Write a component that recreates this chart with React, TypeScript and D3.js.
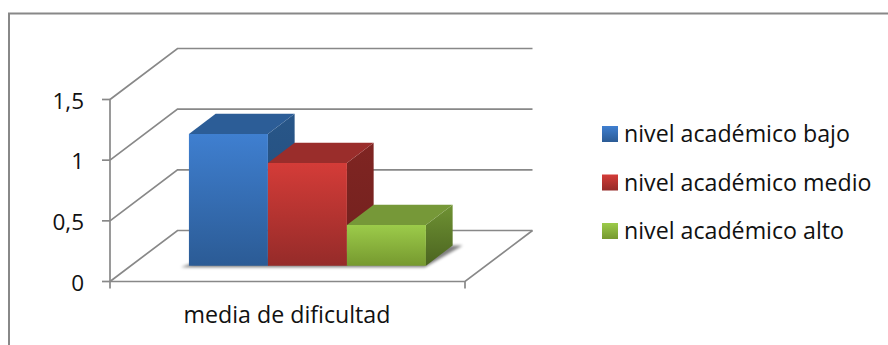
import React from "react";
import * as d3 from "d3";

const categories = ["media de dificultad"];
const seriesNames = ["nivel académico bajo", "nivel académico medio", "nivel académico alto"];
const seriesValues = [1.085, 0.846, 0.335];
const yTicks = [0, 0.5, 1, 1.5];
const frontColors = [["#3f7fd0", "#2b5b95"], ["#d43c38", "#952b29"], ["#9ccb4a", "#76992f"]];
const topColors = ["#2c5d97", "#9a2d2b", "#769838"];
const sideColors = [["#285688", "#234c7c"], ["#7f2522", "#72201e"], ["#6f9233", "#4b6420"]];

const FONT = "'Open Sans', sans-serif";
const LABEL_SIZE = 23.2;
const TICK_SIZE = 22.5;
const INK = "#111111";
const RULE = "#888888";

// Oblique projection: depth 0 is the front edge of the floor, depth 1 the back wall.
const DX = 67.5;
const DY = -51;
const y = d3.scaleLinear().domain([0, 1.5]).range([281.5, 99.5]);
const xOuter = d3.scaleBand().domain(categories).range([110, 465]).paddingInner(0).paddingOuter(0);
const seriesBand = d3.scaleBand().domain(seriesNames).range([168, 405]);
const project = (px: number, value: number, depth: number): [number, number] => [
  px + DX * depth,
  y(value) + DY * depth,
];
const poly = (pts: [number, number][]) => d3.line()(pts) + "Z";

const BAR_FRONT = 0.31;
const BAR_BACK = 0.706;

export default function App() {
  const bw = seriesBand.bandwidth();
  const firstX = seriesBand(seriesNames[0])!;
  const lastX = seriesBand(seriesNames[2])! + bw;
  const shadow = poly([
    project(firstX - 6, 0, BAR_FRONT - 0.03),
    project(lastX + 1, 0, BAR_FRONT - 0.03),
    project(lastX + 10, 0, BAR_BACK),
    project(lastX - 10, 0, BAR_BACK),
    project(firstX, 0, BAR_FRONT + 0.05),
  ]);
  return (
    <svg
      width={888}
      height={345}
      style={{ position: "absolute", left: 0, top: 0, background: "#fff" }}
      fontFamily={FONT}
    >
      <defs>
        {frontColors.map((c, i) => (
          <linearGradient key={i} id={`front${i}`} x1="0" y1="0" x2="0" y2="1">
            <stop offset="0" stopColor={c[0]} />
            <stop offset="1" stopColor={c[1]} />
          </linearGradient>
        ))}
        {sideColors.map((c, i) => (
          <linearGradient key={i} id={`side${i}`} x1="0" y1="0" x2="0" y2="1">
            <stop offset="0" stopColor={c[0]} />
            <stop offset="1" stopColor={c[1]} />
          </linearGradient>
        ))}
        <filter id="soft" x="-10%" y="-30%" width="120%" height="160%">
          <feGaussianBlur stdDeviation="1.5" />
        </filter>
      </defs>

      {/* chart frame: left and top edges */}
      <path d="M9,345V13.5H888" fill="none" stroke={RULE} strokeWidth={2} />

      {/* back wall gridlines and their slanted wall segments */}
      {yTicks.map((t) => {
        const a = project(xOuter.range()[0], t, 0);
        const b = project(xOuter.range()[0], t, 1);
        const c = project(xOuter.range()[1], t, 1);
        return (
          <path key={t} d={d3.line()([a, b, c])!} fill="none" stroke={RULE} strokeWidth={1.7} />
        );
      })}

      {/* floor */}
      <path
        d={d3.line()([
          project(110, 0, 0),
          project(465, 0, 0),
          project(465, 0, 1),
        ])!}
        fill="none"
        stroke={RULE}
        strokeWidth={1.7}
      />
      <line x1={465} x2={465} y1={y(0)} y2={y(0) + 7} stroke={RULE} strokeWidth={1.7} />
      <line x1={110} x2={110} y1={y(1.5)} y2={y(0) + 7} stroke={RULE} strokeWidth={1.7} />
      {yTicks.map((t) => (
        <line key={t} x1={102} x2={110} y1={y(t)} y2={y(t)} stroke={RULE} strokeWidth={1.7} />
      ))}

      {/* value axis labels */}
      {yTicks.map((t) => (
        <text key={t} x={84} y={y(t) + 9} textAnchor="end" fontSize={TICK_SIZE} fill={INK}>
          {String(t).replace(".", ",")}
        </text>
      ))}

      <path d={shadow} fill="#000" opacity={0.5} filter="url(#soft)" />

      {/* bars, each face built from the projected value */}
      {seriesNames.map((name, i) => {
        const x0 = seriesBand(name)!;
        const x1 = x0 + bw;
        const v = seriesValues[i];
        return (
          <g key={name}>
            <path
              d={poly([
                project(x1, v, BAR_FRONT),
                project(x1, v, BAR_BACK),
                project(x1, 0, BAR_BACK),
                project(x1, 0, BAR_FRONT),
              ])}
              fill={`url(#side${i})`}
            />
            <path
              d={poly([
                project(x0, v, BAR_FRONT),
                project(x0, v, BAR_BACK),
                project(x1, v, BAR_BACK),
                project(x1, v, BAR_FRONT),
              ])}
              fill={topColors[i]}
            />
            <path
              d={poly([
                project(x0, v, BAR_FRONT),
                project(x1, v, BAR_FRONT),
                project(x1, 0, BAR_FRONT),
                project(x0, 0, BAR_FRONT),
              ])}
              fill={`url(#front${i})`}
            />
          </g>
        );
      })}

      {/* category label */}
      <text x={287} y={323} textAnchor="middle" fontSize={LABEL_SIZE} fill={INK}>
        {categories[0]}
      </text>

      {/* legend */}
      {seriesNames.map((name, i) => {
        const cy = 134 + i * 48.5;
        return (
          <g key={name}>
            <rect x={602} y={cy - 8} width={16} height={16} fill={`url(#front${i})`} />
            <text x={624} y={cy + 8} fontSize={LABEL_SIZE} fill={INK}>
              {name}
            </text>
          </g>
        );
      })}
    </svg>
  );
}
